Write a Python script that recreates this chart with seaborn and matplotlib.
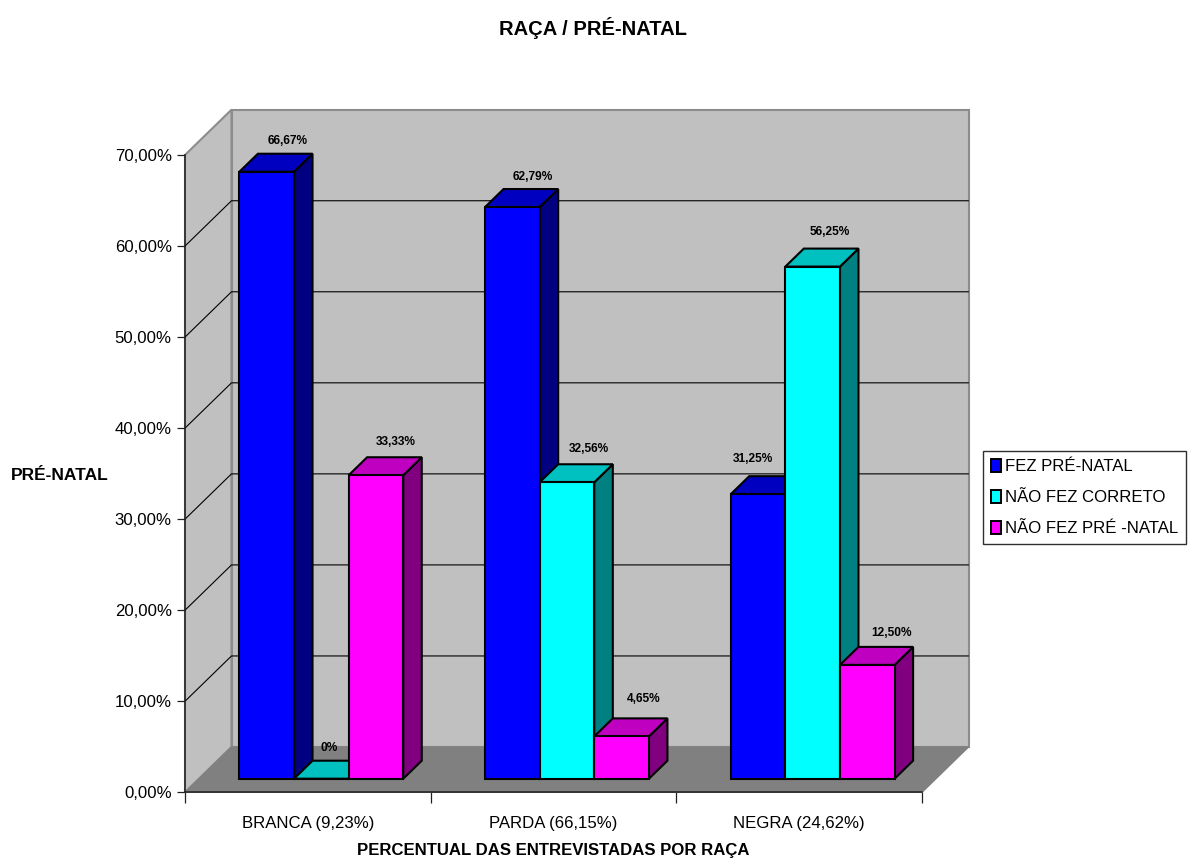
import matplotlib
matplotlib.use("Agg")
import matplotlib.pyplot as plt
import pandas as pd
import seaborn as sns
from matplotlib.patches import Patch, Polygon
from matplotlib.transforms import Affine2D

# Data
racas = ["BRANCA (9,23%)", "PARDA (66,15%)", "NEGRA (24,62%)"]
grupos = ["FEZ PRÉ-NATAL", "NÃO FEZ CORRETO", "NÃO FEZ PRÉ -NATAL"]
fez_pre_natal = [66.67, 62.79, 31.25]
nao_fez_correto = [0.0, 32.56, 56.25]
nao_fez_pre_natal = [33.33, 4.65, 12.50]
y_ticks = [0, 10, 20, 30, 40, 50, 60, 70]

# Face colours of each series: front, side, top
FRONT = ["#0000FF", "#00FFFF", "#FF00FF"]
SIDE = ["#000080", "#008080", "#800080"]
TOP = ["#0000C0", "#00C0C0", "#C000C0"]

WALL = "#C0C0C0"
FLOOR = "#808080"
WALL_EDGE = "#8C8C8C"

# Pseudo-3D geometry, in pixels
ROOM_DX, ROOM_DY = 46.5, 45.3     # depth of the room
BAR_DX, BAR_DY = 13.5, 13.6       # bars stand inside the room
BAR_DEPTH_X, BAR_DEPTH_Y = 18.5, 18.0

df = pd.DataFrame({
    "raca": racas * 3,
    "grupo": [g for g in grupos for _ in racas],
    "valor": fez_pre_natal + nao_fez_correto + nao_fez_pre_natal,
})

sns.set_theme(style="white")
plt.rcParams["font.family"] = ["Liberation Sans", "DejaVu Sans"]
plt.rcParams["text.color"] = "black"
plt.rcParams["xtick.labelcolor"] = "black"
plt.rcParams["ytick.labelcolor"] = "black"

W, H = 1196, 864
fig = plt.figure(figsize=(W / 100, H / 100), dpi=100, facecolor="white")
ax = fig.add_axes([185 / W, (H - 792.3) / H, (922 - 185) / W, (792.3 - 155) / H])
ax.patch.set_visible(False)

sns.barplot(
    data=df, x="raca", y="valor", hue="grupo", order=racas, hue_order=grupos,
    palette=FRONT, width=0.667, gap=0, saturation=1, edgecolor="black",
    linewidth=1.5, legend=False, ax=ax, zorder=5,
)
ax.set_xlim(-0.5, 2.5)
ax.set_ylim(0, 70)


def px(x, y):
    return ax.transData.transform((x, y))


def poly(points, **kw):
    patch = Polygon(points, closed=True, clip_on=False, **kw)
    patch.set_transform(Affine2D())
    ax.add_patch(patch)
    return patch


# Room: left wall, back wall and floor
x0, x1 = ax.get_xlim()
bl, br, tl, tr = px(x0, 0), px(x1, 0), px(x0, 70), px(x1, 70)
room = (ROOM_DX, ROOM_DY)
poly([bl, tl, tl + room, bl + room], facecolor=WALL, edgecolor=WALL_EDGE, linewidth=1.5, zorder=0.5)
poly([bl + room, tl + room, tr + room, br + room], facecolor=WALL, edgecolor=WALL_EDGE, linewidth=1.5, zorder=0.6)
poly([bl, bl + room, br + room, br], facecolor=FLOOR, edgecolor=FLOOR, linewidth=1, zorder=0.7)

# Gridlines run along the left wall and across the back wall
for tick in y_ticks[1:-1]:
    a, b = px(x0, tick), px(x1, tick)
    ax.plot([a[0], a[0] + ROOM_DX, b[0] + ROOM_DX], [a[1], a[1] + ROOM_DY, b[1] + ROOM_DY],
            color="black", linewidth=0.8, transform=Affine2D(), clip_on=False, zorder=0.8)

# Value labels sit above each bar; offsets are from the front-top centre of the bar
label_shift = [
    [(21, 31), (20, 30), (-5, 35)],
    [(8, 31), (22, 33), (17, 35)],
    [(20, 33), (22, 37), (24, 32)],
]
series = [fez_pre_natal, nao_fez_correto, nao_fez_pre_natal]
shift = Affine2D().translate(BAR_DX, BAR_DY)

for s, container in enumerate(ax.containers):
    for c, bar in enumerate(container):
        order = 5 + (c * 3 + s) * 0.1
        x_left, x_right = bar.get_x(), bar.get_x() + bar.get_width()
        value = series[s][c]
        p_bl = px(x_left, 0) + (BAR_DX, BAR_DY)
        p_br = px(x_right, 0) + (BAR_DX, BAR_DY)
        p_tl = px(x_left, value) + (BAR_DX, BAR_DY)
        p_tr = px(x_right, value) + (BAR_DX, BAR_DY)
        depth = (BAR_DEPTH_X, BAR_DEPTH_Y)
        poly([p_br, p_tr, p_tr + depth, p_br + depth], facecolor=SIDE[s], edgecolor="black",
             linewidth=1.5, joinstyle="miter", zorder=order)
        poly([p_tl, p_tr, p_tr + depth, p_tl + depth], facecolor=TOP[s], edgecolor="black",
             linewidth=1.5, joinstyle="miter", zorder=order + 0.01)
        bar.set_transform(ax.transData + shift)
        bar.set_clip_on(False)
        bar.set_zorder(order + 0.02)

        text = "0%" if value == 0 else f"{value:.2f}".replace(".", ",") + "%"
        dx, dy = label_shift[s][c]
        centre = (p_tl + p_tr) / 2
        ax.annotate(text, xy=(centre[0] + dx, centre[1] + dy), xycoords="figure pixels",
                    ha="center", va="center", fontsize=8.6, fontweight="bold", color="black",
                    annotation_clip=False, zorder=20)

# Axes
for side in ("top", "right"):
    ax.spines[side].set_visible(False)
for side in ("left", "bottom"):
    ax.spines[side].set_color("#202020")
    ax.spines[side].set_linewidth(1.1)
    ax.spines[side].set_zorder(3)

ax.set_yticks(y_ticks)
ax.set_yticklabels([f"{t},00%" for t in y_ticks], fontsize=12.1)
ax.set_xticks([-0.5, 0.5, 1.5, 2.5], labels=[])
ax.set_xticks([0, 1, 2], labels=racas, minor=True, fontsize=12.1)
ax.tick_params(axis="y", which="major", left=True, length=6, width=0.9, color="#202020", pad=3.6)
ax.tick_params(axis="x", which="major", bottom=True, length=8, width=0.9, color="#202020")
ax.tick_params(axis="x", which="minor", bottom=False, pad=13)
ax.set_xlabel("")
ax.set_ylabel("")

fig.text(593 / W, 1 - 28 / H, "RAÇA / PRÉ-NATAL", ha="center", va="center",
         fontsize=14.5, fontweight="bold")
fig.text(60 / W, 1 - 475 / H, "PRÉ-NATAL", ha="center", va="center",
         fontsize=12.5, fontweight="bold")
fig.text(553.5 / W, 1 - 851 / H, "PERCENTUAL DAS ENTREVISTADAS POR RAÇA", ha="center", va="center",
         fontsize=12.1, fontweight="bold")

# Legend
handles = [Patch(facecolor=c, edgecolor="black", linewidth=1.4, label=g) for c, g in zip(FRONT, grupos)]
fig.legend(
    handles=handles, loc="lower left",
    bbox_to_anchor=(983 / W, (H - 544) / H), bbox_transform=fig.transFigure,
    fontsize=12.1, frameon=True, fancybox=False, edgecolor="#303030", facecolor="white",
    framealpha=1, handlelength=0.6, handleheight=0.8, handletextpad=0.25,
    labelspacing=0.95, borderpad=0.45, borderaxespad=0,
)

fig.savefig("out.png", dpi=100)
